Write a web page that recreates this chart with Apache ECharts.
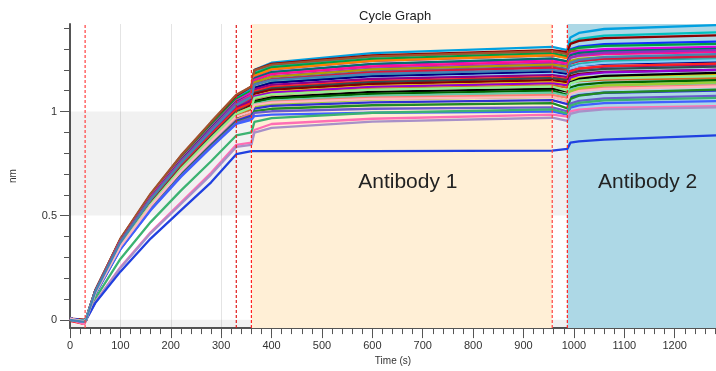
<!DOCTYPE html>
<html>
<head>
<meta charset="utf-8">
<script src="https://cdn.jsdelivr.net/npm/echarts@6/dist/echarts.min.js"></script>
<style>
html,body{margin:0;padding:0;background:#fff;}
#chart{width:716px;height:371px;}
</style>
</head>
<body>
<div id="chart"></div>
<script>
// Sample times (s)
const times = [0, 28, 32, 50, 100, 160, 220, 280, 330, 360, 366, 400, 600, 957, 987, 993, 1010, 1060, 1282];

// Sensor traces (nm), one array per sensor
const s01 = [0.005,-0.005,0.005,0.139,0.385,0.599,0.781,0.942,1.07,1.11,1.2,1.234,1.28,1.31,1.295,1.355,1.377,1.396,1.415];
const s02 = [0,-0.01,0,0.138,0.382,0.594,0.774,0.933,1.06,1.1,1.186,1.218,1.262,1.29,1.28,1.33,1.348,1.364,1.38];
const s03 = [0.005,0,0.005,0.14,0.387,0.602,0.785,0.946,1.075,1.12,1.199,1.229,1.269,1.295,1.285,1.325,1.339,1.352,1.365];
const s04 = [-0.005,-0.01,0,0.137,0.378,0.588,0.767,0.924,1.05,1.09,1.171,1.202,1.243,1.27,1.26,1.298,1.311,1.323,1.335];
const s05 = [0,-0.005,0.005,0.138,0.382,0.594,0.774,0.933,1.06,1.1,1.181,1.212,1.253,1.28,1.265,1.295,1.306,1.315,1.325];
const s06 = [0.005,-0.005,0.005,0.14,0.389,0.605,0.788,0.95,1.08,1.12,1.197,1.225,1.265,1.29,1.275,1.288,1.292,1.296,1.3];
const s07 = [0,-0.01,0,0.137,0.378,0.588,0.767,0.924,1.05,1.09,1.171,1.202,1.243,1.27,1.255,1.273,1.279,1.284,1.29];
const s08 = [0.005,-0.005,0.005,0.137,0.378,0.588,0.767,0.924,1.05,1.09,1.162,1.189,1.226,1.25,1.24,1.275,1.288,1.299,1.31];
const s09 = [0,-0.01,0,0.136,0.376,0.585,0.763,0.92,1.045,1.08,1.159,1.189,1.229,1.255,1.24,1.27,1.281,1.29,1.3];
const s10 = [0.005,-0.015,0,0.135,0.374,0.582,0.759,0.915,1.04,1.08,1.152,1.179,1.216,1.24,1.23,1.258,1.267,1.276,1.285];
const s11 = [0,-0.005,0.005,0.135,0.374,0.582,0.759,0.915,1.04,1.07,1.142,1.169,1.206,1.23,1.22,1.258,1.271,1.283,1.295];
const s12 = [0,-0.01,0,0.134,0.371,0.577,0.752,0.906,1.03,1.07,1.14,1.166,1.202,1.225,1.215,1.243,1.252,1.261,1.27];
const s13 = [0.005,-0.005,0.005,0.134,0.371,0.577,0.752,0.906,1.03,1.06,1.13,1.156,1.192,1.215,1.205,1.233,1.242,1.251,1.26];
const s14 = [0,-0.02,0,0.133,0.367,0.571,0.745,0.898,1.02,1.06,1.128,1.153,1.188,1.21,1.195,1.23,1.243,1.254,1.265];
const s15 = [0.005,-0.005,0.005,0.133,0.367,0.571,0.745,0.898,1.02,1.05,1.115,1.14,1.173,1.195,1.185,1.218,1.229,1.24,1.25];
const s16 = [0,-0.01,0,0.131,0.364,0.566,0.737,0.889,1.01,1.05,1.113,1.137,1.169,1.19,1.18,1.21,1.221,1.23,1.24];
const s17 = [0.005,-0.005,0.005,0.13,0.36,0.56,0.73,0.88,1.0,1.04,1.103,1.127,1.159,1.18,1.17,1.208,1.221,1.233,1.245];
const s18 = [0,-0.015,0,0.133,0.367,0.571,0.745,0.898,1.02,1.05,1.106,1.128,1.156,1.175,1.165,1.195,1.206,1.215,1.225];
const s19 = [-0.005,-0.02,0,0.131,0.364,0.566,0.737,0.889,1.01,1.04,1.096,1.118,1.146,1.165,1.155,1.193,1.206,1.218,1.23];
const s20 = [0,-0.01,0,0.13,0.36,0.56,0.73,0.88,1.0,1.03,1.089,1.111,1.141,1.16,1.15,1.183,1.194,1.205,1.215];
const s21 = [0.005,-0.005,0.005,0.129,0.356,0.554,0.723,0.871,0.99,1.03,1.084,1.104,1.132,1.15,1.14,1.17,1.181,1.19,1.2];
const s22 = [0,-0.01,0,0.129,0.356,0.554,0.723,0.871,0.99,1.02,1.074,1.094,1.122,1.14,1.13,1.153,1.161,1.168,1.175];
const s23 = [0.005,-0.005,0.005,0.127,0.353,0.549,0.715,0.862,0.98,1.02,1.072,1.091,1.118,1.135,1.125,1.163,1.176,1.188,1.2];
const s24 = [0,-0.015,0,0.127,0.353,0.549,0.715,0.862,0.98,1.01,1.062,1.081,1.108,1.125,1.115,1.138,1.146,1.153,1.16];
const s25 = [0,-0.01,0,0.126,0.349,0.543,0.708,0.854,0.97,1.0,1.05,1.068,1.094,1.11,1.095,1.14,1.156,1.171,1.185];
const s26 = [0.005,-0.005,0.005,0.126,0.349,0.543,0.708,0.854,0.97,1.0,1.045,1.062,1.085,1.1,1.08,1.115,1.128,1.139,1.15];
const s27 = [0,-0.01,0,0.125,0.346,0.538,0.701,0.845,0.96,0.99,1.035,1.052,1.075,1.09,1.075,1.105,1.116,1.125,1.135];
const s28 = [0.005,-0.02,0,0.125,0.346,0.538,0.701,0.845,0.96,0.99,1.031,1.046,1.067,1.08,1.065,1.095,1.106,1.115,1.125];
const s29 = [0,-0.01,0,0.124,0.342,0.532,0.694,0.836,0.95,0.98,1.021,1.036,1.057,1.07,1.05,1.095,1.111,1.126,1.14];
const s30 = [0.005,-0.005,0.005,0.124,0.344,0.535,0.697,0.84,0.955,0.98,1.014,1.027,1.044,1.055,1.035,1.068,1.079,1.09,1.1];
const s31 = [0,-0.015,0,0.124,0.342,0.532,0.694,0.836,0.95,0.97,1.002,1.013,1.03,1.04,1.015,1.06,1.076,1.091,1.105];
const s32 = [0,-0.01,0,0.123,0.34,0.529,0.69,0.832,0.945,0.97,0.993,1.001,1.013,1.02,1.0,1.038,1.051,1.063,1.075];
const s33 = [0.005,-0.005,0.005,0.122,0.338,0.526,0.686,0.827,0.94,0.96,0.978,0.985,0.994,1.0,0.985,1.018,1.029,1.04,1.05];
const s34 = [0,-0.01,0,0.102,0.292,0.469,0.62,0.761,0.885,0.9,0.95,0.968,0.994,1.01,0.99,1.028,1.041,1.053,1.065];
const s35 = [0,-0.02,0,0.084,0.252,0.42,0.563,0.706,0.84,0.85,0.911,0.94,0.965,0.985,0.975,1.0,1.009,1.017,1.025];
const s36 = [0.005,-0.01,0,0.083,0.249,0.415,0.556,0.697,0.83,0.84,0.899,0.921,0.951,0.97,0.955,0.988,0.999,1.01,1.02];
const s37 = [0,-0.01,0,0.08,0.231,0.39,0.525,0.66,0.795,0.81,0.81,0.81,0.81,0.812,0.82,0.85,0.856,0.865,0.885];
const s38 = [0,-0.005,0.005,0.129,0.356,0.554,0.723,0.871,0.99,1.02,1.065,1.082,1.105,1.12,1.1,1.135,1.148,1.159,1.17];
const s39 = [0.005,-0.01,0,0.127,0.351,0.546,0.712,0.858,0.975,1.0,1.032,1.043,1.06,1.07,1.05,1.085,1.098,1.109,1.12];
const s40 = [0,-0.01,0,0.134,0.371,0.577,0.752,0.906,1.03,1.07,1.129,1.151,1.181,1.2,1.19,1.233,1.248,1.261,1.275];

const traces = [s01,s02,s03,s04,s05,s06,s07,s08,s09,s10,s11,s12,s13,s14,s15,s16,s17,s18,s19,s20,
                s21,s22,s23,s24,s25,s26,s27,s28,s29,s30,s31,s32,s33,s34,s35,s36,s37,s38,s39,s40];
const colors = ['#00a0e0','#00c0c0','#8b0000','#1030ff','#00a040','#a0522d','#ff7f00','#e000e0','#007070','#ff1090',
                '#9030c0','#b0a000','#607080','#dc143c','#20b2aa','#000080','#87cefa','#8b008b','#ff2020','#2f4f4f',
                '#800000','#e6c200','#9400d3','#d2691e','#000000','#006400','#66cdaa','#fa8072','#9acd32','#3030d0',
                '#228b22','#6a5acd','#4060ff','#3cb371','#ff6eb4','#a890c8','#2040e0','#90ee90','#ffb6c1','#4682b4'];

// Step boundaries (s) and phase labels
const stepLines = [30, 330, 360, 957, 987];
const stepColors = ['#ff4040', '#e01a1a', '#ff2020', '#ff4040', '#ff2020'];
const phases = [
  {name: 'Antibody 1', start: 360, end: 957, color: '#ffefd6'},
  {name: 'Antibody 2', start: 987, end: 1282, color: '#add8e6'}
];
const xMajor = [0,100,200,300,400,500,600,700,800,900,1000,1100,1200];
const yMajor = [0, 0.5, 1];

const xMinor = [];
for (let v = 20; v <= 1280; v += 20) if (v % 100 !== 0) xMinor.push(v);
const yMinor = [0.1,0.2,0.3,0.4,0.6,0.7,0.8,0.9,1.1,1.2,1.3,1.4];

const Y_MIN = -0.04, Y_MAX = 1.42;
const FONT = '"Liberation Sans", Arial, sans-serif';
const chart = echarts.init(document.getElementById('chart'), null, {renderer: 'canvas'});

const series = [];
// gray alternating bands outside the antibody steps
series.push({
  type: 'line', data: [], silent: true,
  markArea: {
    silent: true,
    itemStyle: {color: 'rgba(0,0,0,0.055)', borderWidth: 0},
    data: [
      [{xAxis: 0, yAxis: Y_MIN}, {xAxis: 360, yAxis: 0}],
      [{xAxis: 0, yAxis: 0.5}, {xAxis: 360, yAxis: 1}],
      [{xAxis: 957, yAxis: Y_MIN}, {xAxis: 987, yAxis: 0}],
      [{xAxis: 957, yAxis: 0.5}, {xAxis: 987, yAxis: 1}]
    ]
  }
});
series.push({
  type: 'line', data: [], silent: true,
  markArea: {
    silent: true,
    itemStyle: {borderWidth: 0},
    label: {show: true, position: 'inside', fontSize: 21, color: '#222', fontFamily: FONT, offset: [6, 6]},
    data: phases.map(p => [{name: p.name, xAxis: p.start, yAxis: Y_MAX, itemStyle: {color: p.color, borderWidth: 0}},
                           {xAxis: p.end, yAxis: Y_MIN}])
  }
});
traces.forEach((vals, i) => {
  series.push({
    type: 'line', silent: true, symbol: 'none', showSymbol: false, z: 2,
    lineStyle: {width: 2.3, color: colors[i]},
    itemStyle: {color: colors[i]},
    data: times.map((t, k) => [t, vals[k]])
  });
});
// dashed step boundary lines
stepLines.forEach((x, i) => {
  series.push({
    type: 'line', silent: true, symbol: 'none', showSymbol: false, z: 5,
    lineStyle: {width: 1.2, color: stepColors[i], type: [3, 2], opacity: 1},
    itemStyle: {color: stepColors[i]},
    data: [[x, Y_MIN], [x, Y_MAX]]
  });
});

chart.setOption({
  animation: false,
  backgroundColor: '#fff',
  title: {text: 'Cycle Graph', left: 354, top: 5,
          textStyle: {fontSize: 13, fontWeight: 'normal', color: '#222', fontFamily: FONT}},
  grid: {left: 69, right: 0, top: 24, bottom: 40, containLabel: false},
  xAxis: [{
    type: 'value', min: 0, max: 1282, interval: 100,
    name: 'Time (s)', nameLocation: 'middle', nameGap: 26,
    nameTextStyle: {fontSize: 10, color: '#333', fontFamily: FONT},
    axisLine: {show: true, onZero: false, lineStyle: {color: '#555', width: 2}},
    axisTick: {show: true, length: 10, customValues: xMajor, lineStyle: {color: '#555'}},
    axisLabel: {customValues: xMajor, fontSize: 11, color: '#333', margin: 12, fontFamily: FONT,
                formatter: v => String(v)},
    splitLine: {show: true, lineStyle: {color: '#e4e4e4', width: 1}}
  }, {
    type: 'value', min: 0, max: 1282, position: 'bottom',
    axisLine: {show: false, onZero: false},
    axisTick: {show: true, length: 6, customValues: xMinor, lineStyle: {color: '#555'}},
    axisLabel: {show: false}, splitLine: {show: false}
  }],
  yAxis: [{
    type: 'value', min: Y_MIN, max: Y_MAX,
    name: 'nm', nameLocation: 'middle', nameGap: 52,
    nameTextStyle: {fontSize: 10, color: '#333', fontFamily: FONT},
    axisLine: {show: true, onZero: false, lineStyle: {color: '#555', width: 2}},
    axisTick: {show: true, length: 10, customValues: yMajor, lineStyle: {color: '#555'}},
    axisLabel: {customValues: yMajor, fontSize: 11, color: '#333', margin: 13, fontFamily: FONT,
                formatter: v => String(v)},
    splitLine: {show: false}
  }, {
    type: 'value', min: Y_MIN, max: Y_MAX, position: 'left',
    axisLine: {show: false, onZero: false},
    axisTick: {show: true, length: 6, customValues: yMinor, lineStyle: {color: '#555'}},
    axisLabel: {show: false}, splitLine: {show: false}
  }],
  series: series
});
</script>
</body>
</html>
